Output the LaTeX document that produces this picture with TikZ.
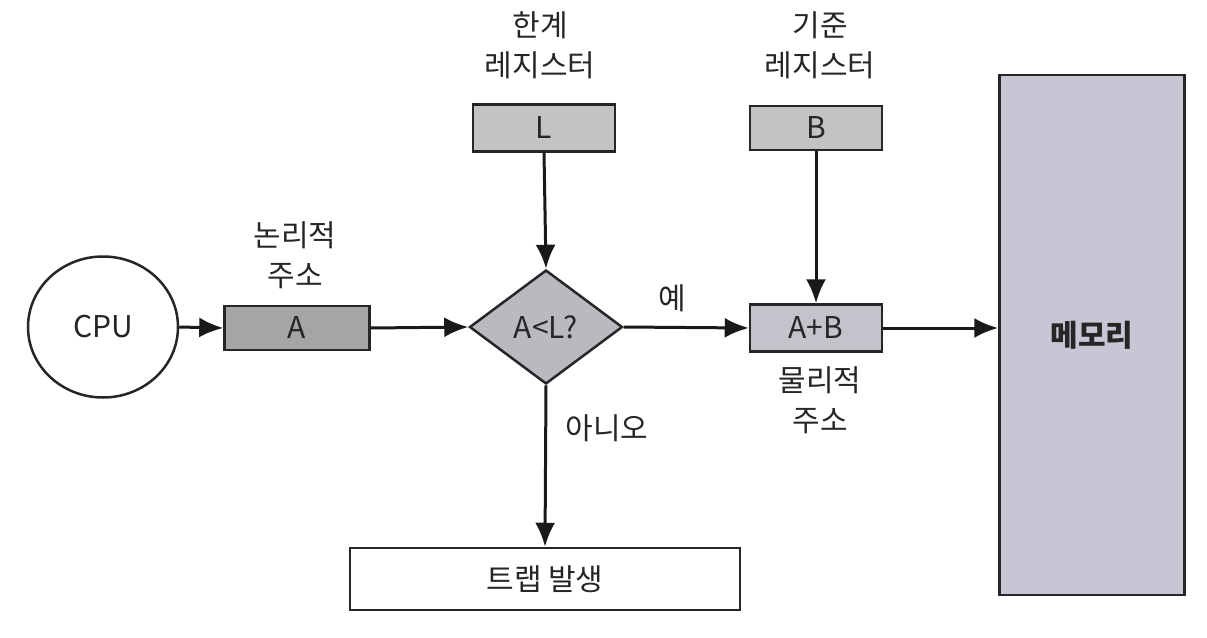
\documentclass[tikz,border=0pt]{standalone}
\usepackage{fontspec}
\newfontfamily\kr{Noto Sans CJK KR}
\usetikzlibrary{shapes.geometric,arrows.meta}
\definecolor{gA}{RGB}{165,165,165}
\definecolor{gL}{RGB}{195,195,197}
\definecolor{gD}{RGB}{185,185,192}
\definecolor{gAB}{RGB}{195,195,203}
\definecolor{gM}{RGB}{198,198,212}
\tikzset{
  every node/.style={font=\kr\fontsize{30}{40}\selectfont, text=black!85},
  box/.style={draw=black!85, line width=2.5pt, rectangle, inner sep=0pt},
  lbl/.style={align=center, inner sep=0pt},
  conn/.style={draw=black!90, line width=3pt, -{Latex[length=24pt,width=20pt]}}
}
\begin{document}
\begin{tikzpicture}[x=1pt,y=-1pt]
\useasboundingbox (0,0) rectangle (1207,637);
\node[draw=black!85, line width=2.5pt, ellipse, minimum width=150pt, minimum height=141pt, inner sep=0pt] (cpu) at (103,327) {CPU};
\node[box, fill=gA, minimum width=145pt, minimum height=44pt] (a) at (297,328) {A};
\node[lbl] (la) at (295,255) {논리적\\주소};
\node[draw=black!85, line width=2.5pt, diamond, fill=gD, minimum width=153pt, minimum height=114pt, inner sep=0pt, aspect=1.34] (dia) at (546,327) {A<L?};
\node[box, fill=gL, minimum width=142pt, minimum height=47pt] (l) at (544,128) {L};
\node[lbl] (ll) at (540,45) {한계\\레지스터};
\node[box, fill=gL, minimum width=132pt, minimum height=44pt] (b) at (816,128) {B};
\node[lbl] (lb) at (820,45) {기준\\레지스터};
\node[box, fill=gAB, minimum width=132pt, minimum height=47pt] (ab) at (816,328) {A+B};
\node[lbl] (lab) at (820,400) {물리적\\주소};
\node[box, fill=gM, minimum width=185pt, minimum height=520pt, font=\kr\bfseries\fontsize{30}{40}\selectfont] (mem) at (1092,335) {메모리};
\node[box, fill=white, minimum width=390pt, minimum height=62pt] (trap) at (545,579) {트랩 발생};
\node[lbl] (yes) at (672,298) {예};
\node[lbl] (no) at (607,428) {아니오};
\draw[conn] (cpu.east) -- (a.west);
\draw[conn] (a.east) -- (dia.west);
\draw[conn] (dia.east) -- (ab.west);
\draw[conn] (ab.east) -- (ab.east -| mem.west);
\draw[conn] (l.south) -- (dia.north);
\draw[conn] (b.south) -- (ab.north);
\draw[conn] (dia.south) -- (trap.north);
\end{tikzpicture}
\end{document}
